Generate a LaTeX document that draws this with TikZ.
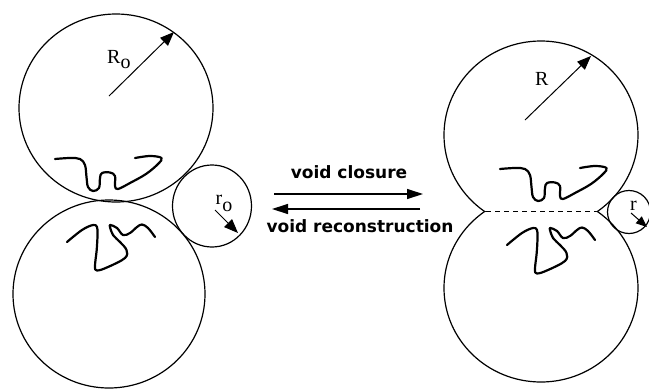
\documentclass[tikz,border=0pt]{standalone}
\usepackage{fontspec}
\setmainfont{Liberation Serif}
\newfontfamily\flowfont{DejaVu Sans}
\usetikzlibrary{arrows.meta}

% wavy pores drawn inside the grains
\newcommand{\upperpore}{plot[smooth,tension=0.6] coordinates {(55,159) (70,158) (80,159) (85,165) (86.5,177) (88,187) (93,191) (99,188) (100,178) (102,173) (110,172.5) (115,176) (115,186) (118,189) (130,183) (146,174) (158,164) (161.5,158) (150,156) (135,158)}}
\newcommand{\lowerpore}{plot[smooth,tension=0.6] coordinates {(67,242) (82,230) (93,225) (97,227) (97.5,235) (96.7,250) (95,266) (97,270.5) (108,267) (125,258) (126.5,250) (120,242) (113,235) (110,227) (110.5,225) (117,228) (123,235) (130,233) (137,227) (142,224.5) (148,228) (155,237)}}

\begin{document}
\begin{tikzpicture}[x=1pt,y=-1pt,
  bubble/.style={line width=1.2pt},
  pore/.style={line width=2.2pt,line cap=round,line join=round},
  radarrow/.style={line width=1pt,-{Triangle[length=14pt,width=11pt]}},
  flowarrow/.style={line width=1.3pt,-{Triangle[length=16pt,width=10pt]}},
  flowtext/.style={font=\flowfont\bfseries\fontsize{17}{20}\selectfont,inner sep=0pt,anchor=base},
  symb/.style={font=\fontsize{20}{24}\selectfont,inner sep=0pt,anchor=base west}]
\useasboundingbox (0,0) rectangle (649,389);

% left: two grains in contact and a free pore beside them
\coordinate (LT) at (116,108);
\coordinate (LB) at (109,294);
\coordinate (lp) at (212,206);
\draw[bubble] (LT) ellipse [x radius=97,y radius=94];
\draw[bubble] (LB) ellipse [x radius=96,y radius=94];
\draw[bubble] (lp) ellipse [x radius=39.5,y radius=41];
\draw[pore] \upperpore;
\draw[pore] \lowerpore;

% radii
\coordinate (R0a) at (109,96);
\coordinate (R0b) at (174,32);
\draw[radarrow] (R0a) -- (R0b);
\node[symb] (R0) at (107,63) {R\raisebox{-5pt}{o}};
\coordinate (r0a) at (215,210);
\coordinate (r0b) at (238,233);
\draw[radarrow] (r0a) -- (r0b);
\node[symb] (r0) at (215.5,204) {r\raisebox{-7pt}{o}};

% arrows between the two states
\coordinate (cl0) at (274,194);
\coordinate (cl1) at (423,194);
\coordinate (rc0) at (420,209);
\coordinate (rc1) at (272,209);
\draw[flowarrow] (cl0) -- (cl1);
\draw[flowarrow] (rc0) -- (rc1);
\node[flowtext] (closure) at (349,178.3) {void closure};
\node[flowtext] (recon) at (360,232.3) {void reconstruction};

% right: grains joined by a neck
\coordinate (RT) at (541,135);
\coordinate (RB) at (541,288);
\begin{scope}
  \clip (400,0) rectangle (649,211.5);
  \draw[bubble] (RT) ellipse [x radius=97,y radius=94];
\end{scope}
\begin{scope}
  \clip (400,211.5) rectangle (649,389);
  \draw[bubble] (RB) ellipse [x radius=97,y radius=94];
\end{scope}
\coordinate (nl) at (486,211.5);
\coordinate (nr) at (596,211.5);
\draw[bubble,dash pattern=on 5pt off 4pt] (nl) -- (nr);
\coordinate (rp) at (629,212);
\draw[bubble] (rp) ellipse [x radius=21.5,y radius=21.5];
\draw[pore,shift={(445,10)}] \upperpore;
\draw[pore,shift={(440,3)}] \lowerpore;

\coordinate (Ra) at (525,120);
\coordinate (Rb) at (591,56);
\draw[radarrow] (Ra) -- (Rb);
\node[symb] (Rlab) at (535,85) {R};
\coordinate (ra) at (631,213);
\coordinate (rb) at (647,227);
\draw[radarrow,-{Triangle[length=11pt,width=9pt]}] (ra) -- (rb);
\node[symb] (rlab) at (630,210) {r};
\end{tikzpicture}
\end{document}
